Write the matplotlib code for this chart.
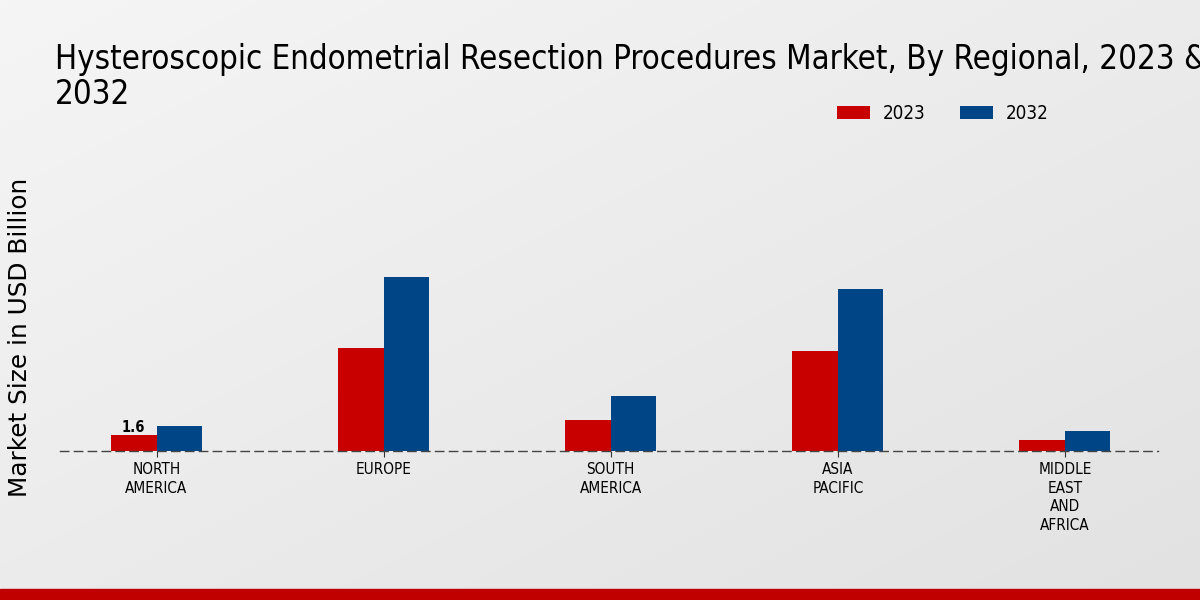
import numpy as np
import matplotlib
matplotlib.use("Agg")
import matplotlib.pyplot as plt
from matplotlib.colors import LinearSegmentedColormap
from matplotlib.patches import Rectangle

# ─── data ─────────────────────────────────────────────────────────────────────
regions = ["NORTH\nAMERICA", "EUROPE", "SOUTH\nAMERICA", "ASIA\nPACIFIC",
           "MIDDLE\nEAST\nAND\nAFRICA"]
years = ["2023", "2032"]
values_2023 = [1.6, 10.5, 3.2, 10.2, 1.1]
values_2032 = [2.5, 17.7, 5.6, 16.5, 2.0]

TITLE = ("Hysteroscopic Endometrial Resection Procedures Market, By Regional, 2023 &\n"
         "2032")
YLABEL = "Market Size in USD Billion"
COLORS = ["#c80000", "#004585"]

W, H = 1200, 600
fig = plt.figure(figsize=(12, 6), dpi=100)

# ─── background gradient + red footer ─────────────────────────────────────────
bg = fig.add_axes([0, 0, 1, 1], zorder=-10)
gx = np.linspace(0, 1, 300)
gy = np.linspace(0, 1, 150)
X, Y = np.meshgrid(gx, gy)
grad = 0.5 * X + 0.5 * (1 - Y)
bg.imshow(grad, cmap=LinearSegmentedColormap.from_list("bg", ["#f5f5f5", "#e2e2e2"]),
          aspect="auto", extent=[0, 1, 0, 1], origin="lower")
bg.add_patch(Rectangle((0, 0), 1, 11 / H, color="#c00000", transform=bg.transAxes))
bg.set_xlim(0, 1)
bg.set_ylim(0, 1)
bg.axis("off")

# ─── bars ─────────────────────────────────────────────────────────────────────
ax = fig.add_axes([60 / W, 149 / H, 1098 / W, 302 / H])
ax.patch.set_alpha(0)
x = np.arange(len(regions))
w = 0.2
ax.bar(x - w / 2, values_2023, w, color=COLORS[0], label=years[0])
ax.bar(x + w / 2, values_2032, w, color=COLORS[1], label=years[1])

ax.set_xlim(-0.425, 4.41)
ax.set_ylim(0, 30.8)
ax.set_xticks(x)
ax.set_xticklabels(regions, fontsize=11, fontstretch="condensed",
                   linespacing=1.3)
ax.tick_params(axis="x", length=4, color="#333333", pad=4)
ax.set_yticks([])
for s in ["top", "right", "left"]:
    ax.spines[s].set_visible(False)
ax.spines["bottom"].set_linestyle((0, (6, 4)))
ax.spines["bottom"].set_color("#444444")
ax.spines["bottom"].set_linewidth(1)

ax.annotate(f"{values_2023[0]}", (x[0] - w / 2, values_2023[0]),
            xytext=(0, 3), textcoords="offset pixels",
            ha="center", va="baseline", fontsize=10.5, fontweight="bold",
            fontstretch="condensed")

# ─── texts ────────────────────────────────────────────────────────────────────
fig.text(27 / W, 1 - 337 / H, YLABEL, rotation=90, rotation_mode="anchor",
         ha="center", va="baseline", fontsize=17.8)

fig.text(55 / W, 1 - 43 / H, TITLE, ha="left", va="top", fontsize=23.7,
         fontstretch="condensed", linespacing=1.08)

ax.legend(loc="center left", bbox_to_anchor=(837 / W, 1 - 114 / H),
          bbox_transform=fig.transFigure, ncol=2, frameon=False,
          prop={"size": 13.5, "stretch": "condensed"}, handlelength=1.76,
          handleheight=0.7, columnspacing=1.8, handletextpad=0.7,
          borderpad=0, borderaxespad=0)

fig.savefig("out.png", dpi=100)
